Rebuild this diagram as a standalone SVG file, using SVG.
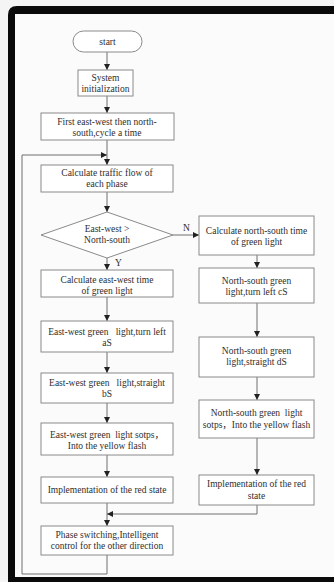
<svg xmlns="http://www.w3.org/2000/svg" width="334" height="582" viewBox="0 0 334 582">
  <style>
    .box { fill: #ffffff; stroke: #8a8a8a; stroke-width: 1; }
    .ln { fill: none; stroke: #6e6e6e; stroke-width: 1; }
    .t { font-family: "Liberation Serif", "Times New Roman", "Noto Sans CJK SC", serif; font-size: 9.5px; fill: #2e2e2e; text-anchor: middle; white-space: pre; }
    .lbl { font-family: "Liberation Serif", "Times New Roman", serif; font-size: 9.5px; fill: #2e2e2e; }
  </style>
  <defs>
    <marker id="arr" viewBox="0 0 6 6" refX="6" refY="3" markerWidth="6" markerHeight="6" orient="auto" markerUnits="userSpaceOnUse">
      <path d="M0,0 L6,3 L0,6 Z" fill="#222222"/>
    </marker>
  </defs>

  <!-- page and black frame -->
  <rect x="0" y="0" width="334" height="582" fill="#f4f4f4"/>
  <path d="M334,6 H17 Q8,6 8,15 V582 H334 Z" fill="#0a0a0a"/>
  <rect x="15" y="14" width="319" height="563" fill="#fbfbfb"/>

  <!-- connectors -->
  <g id="connectors">
    <line class="ln" x1="107" y1="52" x2="107" y2="70" marker-end="url(#arr)"/>
    <line class="ln" x1="107" y1="96" x2="107" y2="113" marker-end="url(#arr)"/>
    <line class="ln" x1="107" y1="140" x2="107" y2="165" marker-end="url(#arr)"/>
    <path class="ln" d="M107,555 V574 H22 V155 H107" marker-end="url(#arr)"/>
    <line class="ln" x1="107" y1="192" x2="107" y2="212" marker-end="url(#arr)"/>
    <line class="ln" x1="173" y1="235" x2="199" y2="235" marker-end="url(#arr)"/>
    <line class="ln" x1="107" y1="258" x2="107" y2="270" marker-end="url(#arr)"/>
    <line class="ln" x1="107" y1="297" x2="107" y2="321" marker-end="url(#arr)"/>
    <line class="ln" x1="107" y1="352" x2="107" y2="373" marker-end="url(#arr)"/>
    <line class="ln" x1="107" y1="403" x2="107" y2="423" marker-end="url(#arr)"/>
    <line class="ln" x1="107" y1="455" x2="107" y2="477" marker-end="url(#arr)"/>
    <line class="ln" x1="107" y1="503" x2="107" y2="526" marker-end="url(#arr)"/>
    <line class="ln" x1="257" y1="255" x2="257" y2="268" marker-end="url(#arr)"/>
    <line class="ln" x1="257" y1="303" x2="257" y2="337" marker-end="url(#arr)"/>
    <line class="ln" x1="257" y1="377" x2="257" y2="400" marker-end="url(#arr)"/>
    <line class="ln" x1="257" y1="438" x2="257" y2="475" marker-end="url(#arr)"/>
    <path class="ln" d="M257,505 V514 H107" marker-end="url(#arr)"/>
    <text class="lbl" x="183" y="231">N</text>
    <text class="lbl" x="115" y="266">Y</text>
  </g>

  <g id="start">
    <rect class="box" x="73" y="31" width="69" height="21" rx="10.5"/>
    <text class="t" x="107.5" y="45">start</text>
  </g>
  <g id="init">
    <rect class="box" x="78" y="70" width="55" height="26"/>
    <text class="t" x="105.5" y="81">System</text>
    <text class="t" x="105.5" y="92">initialization</text>
  </g>
  <g id="order">
    <rect class="box" x="41" y="113" width="133" height="27"/>
    <text class="t" x="107" y="125">First east-west then north-</text>
    <text class="t" x="107" y="136">south,cycle a time</text>
  </g>
  <g id="flow">
    <rect class="box" x="41" y="165" width="132" height="27"/>
    <text class="t" x="107" y="176">Calculate traffic flow of</text>
    <text class="t" x="107" y="187">each phase</text>
  </g>
  <g id="compare">
    <polygon class="box" points="107,212 173,235 107,258 41,235"/>
    <text class="t" x="107" y="232">East-west &gt;</text>
    <text class="t" x="107" y="243">North-south</text>
  </g>
  <g id="ew-time">
    <rect class="box" x="41" y="270" width="132" height="27"/>
    <text class="t" x="107" y="283">Calculate east-west time</text>
    <text class="t" x="107" y="294">of green light</text>
  </g>
  <g id="ew-left">
    <rect class="box" x="41" y="321" width="132" height="31"/>
    <text class="t" x="107" y="335">East-west green   light,turn left</text>
    <text class="t" x="107" y="346">aS</text>
  </g>
  <g id="ew-straight">
    <rect class="box" x="41" y="373" width="132" height="30"/>
    <text class="t" x="107" y="386">East-west green   light,straight</text>
    <text class="t" x="107" y="397">bS</text>
  </g>
  <g id="ew-yellow">
    <rect class="box" x="41" y="423" width="132" height="32"/>
    <text class="t" x="107" y="438">East-west green  light sotps，</text>
    <text class="t" x="107" y="449">Into the yellow flash</text>
  </g>
  <g id="ew-red">
    <rect class="box" x="41" y="477" width="132" height="26"/>
    <text class="t" x="107" y="493">Implementation of the red state</text>
  </g>
  <g id="switch">
    <rect class="box" x="41" y="526" width="132" height="29"/>
    <text class="t" x="107" y="538">Phase switching,Intelligent</text>
    <text class="t" x="107" y="549">control for the other direction</text>
  </g>
  <g id="ns-time">
    <rect class="box" x="199" y="216" width="115" height="39"/>
    <text class="t" x="256.5" y="234">Calculate north-south time</text>
    <text class="t" x="256.5" y="245">of green light</text>
  </g>
  <g id="ns-left">
    <rect class="box" x="199" y="268" width="115" height="35"/>
    <text class="t" x="256.5" y="284">North-south green</text>
    <text class="t" x="256.5" y="295">light,turn left cS</text>
  </g>
  <g id="ns-straight">
    <rect class="box" x="199" y="337" width="115" height="40"/>
    <text class="t" x="256.5" y="354">North-south green</text>
    <text class="t" x="256.5" y="365">light,straight dS</text>
  </g>
  <g id="ns-yellow">
    <rect class="box" x="199" y="400" width="115" height="38"/>
    <text class="t" x="256.5" y="416">North-south green  light</text>
    <text class="t" x="256.5" y="428">sotps，Into the yellow flash</text>
  </g>
  <g id="ns-red">
    <rect class="box" x="199" y="475" width="115" height="30"/>
    <text class="t" x="256.5" y="487">Implementation of the red</text>
    <text class="t" x="256.5" y="499">state</text>
  </g>
</svg>
